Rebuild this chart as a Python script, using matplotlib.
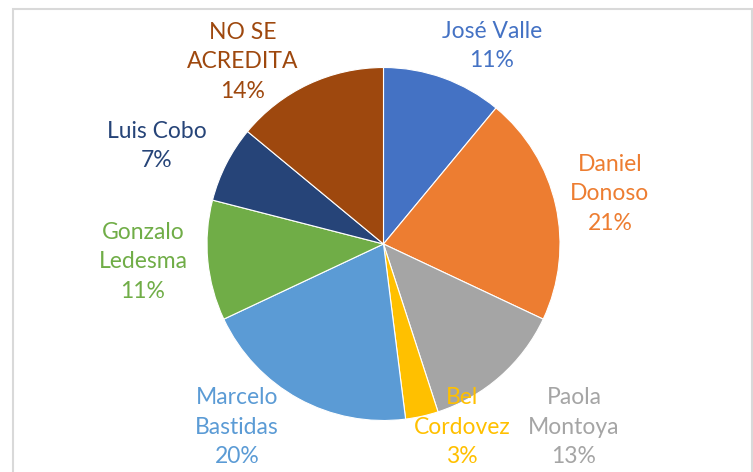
"""Pie chart of votes per candidate."""

import matplotlib.pyplot as plt
from matplotlib.patches import Rectangle

W_PX, H_PX = 753, 472
CENTER_PX = (383.5, 244)
RADIUS_PX = 176.5

names = ["José Valle", "Daniel\nDonoso", "Paola\nMontoya", "Bel\nCordovez",
         "Marcelo\nBastidas", "Gonzalo\nLedesma", "Luis Cobo",
         "NO SE\nACREDITA"]
shares = [11, 21, 13, 3, 20, 11, 7, 14]
colors = ["#4472C4", "#ED7D31", "#A5A5A5", "#FFC000",
          "#5B9BD5", "#70AD47", "#264478", "#9E480E"]

# label anchor points in pixels (centre of the text block)
label_px = [(492, 46), (610, 194), (574, 427), (462, 427),
            (237, 427), (143, 262), (157, 146), (243, 62)]

plt.rcParams["font.family"] = ["Lato", "DejaVu Sans"]

fig = plt.figure(figsize=(W_PX / 100, H_PX / 100), dpi=100)
fig.patch.set_facecolor("white")

fig.add_artist(Rectangle(
    (13 / W_PX, -0.05), (752 - 13) / W_PX, (H_PX - 9) / H_PX + 0.05,
    transform=fig.transFigure, fill=False, edgecolor="#D9D9D9",
    linewidth=1.5))

ax = fig.add_axes([
    (CENTER_PX[0] - RADIUS_PX) / W_PX,
    (H_PX - CENTER_PX[1] - RADIUS_PX) / H_PX,
    2 * RADIUS_PX / W_PX,
    2 * RADIUS_PX / H_PX,
])
ax.pie(shares, colors=colors, startangle=90, counterclock=False,
       radius=1, wedgeprops={"edgecolor": "white", "linewidth": 0.8})
ax.set_xlim(-1, 1)
ax.set_ylim(-1, 1)
ax.set_aspect("equal")
ax.axis("off")

for name, share, color, (px, py) in zip(names, shares, colors, label_px):
    x = (px - CENTER_PX[0]) / RADIUS_PX
    y = (CENTER_PX[1] - py) / RADIUS_PX
    ax.text(x, y, f"{name}\n{share}%", color=color, ha="center",
            va="center", fontsize=16.5, linespacing=1.5, clip_on=False)

fig.savefig("out.png", dpi=100)
